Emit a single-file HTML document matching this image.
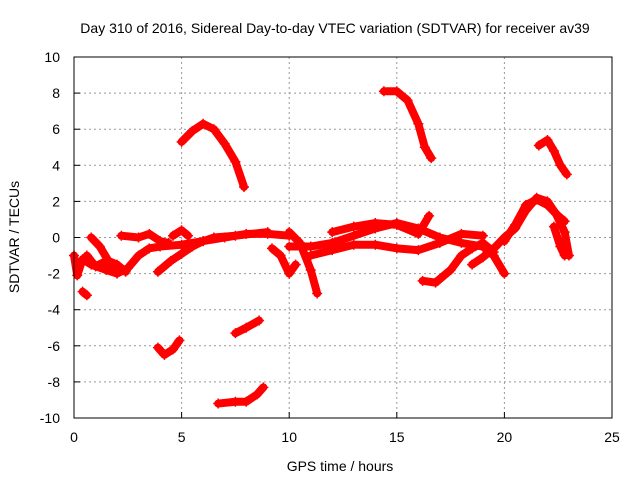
<!DOCTYPE html>
<html><head><meta charset="utf-8"><style>
body{margin:0;background:#fff}
svg text{font-family:"Liberation Sans",sans-serif;font-size:14px;fill:#000}
</style></head><body>
<svg width="640" height="480">
<g id="grid"></g>
<g id="ticks"></g>
<g id="series"></g>
<rect x="74" y="57" width="538" height="361" fill="none" stroke="#000" stroke-width="1"/>
<text x="335" y="33" text-anchor="middle">Day 310 of 2016, Sidereal Day-to-day VTEC variation (SDTVAR) for receiver av39</text>
<text x="340" y="471" text-anchor="middle">GPS time / hours</text>
<text transform="translate(19,237) rotate(-90)" text-anchor="middle">SDTVAR / TECUs</text>
</svg>
<script>
const xTicks=[0,5,10,15,20,25];
const yTicks=[-10,-8,-6,-4,-2,0,2,4,6,8,10];
const tracks=[
[[5.0,5.3],[5.5,5.9],[6.0,6.3],[6.5,6.0],[7.0,5.2],[7.5,4.2],[7.9,2.8]],
[[14.4,8.1],[15.0,8.1],[15.5,7.6],[16.0,6.3],[16.3,5.0],[16.6,4.4]],
[[21.6,5.1],[22.0,5.4],[22.3,4.8],[22.6,4.0],[22.9,3.5]],
[[3.9,-6.1],[4.2,-6.5],[4.6,-6.2],[4.9,-5.7]],
[[7.5,-5.3],[8.0,-5.0],[8.6,-4.6]],
[[6.7,-9.2],[7.5,-9.1],[8.0,-9.1],[8.5,-8.7],[8.8,-8.3]],
[[0.4,-3.0],[0.6,-3.2]],
[[0,-1],[0.15,-2.1],[0.4,-1.2],[0.8,-1.5],[1.5,-1.8],[2.0,-2.0],[2.5,-1.7],[3.0,-1.0],[3.5,-0.6],[4.0,-0.5],[5,-0.4],[6,-0.2],[7,0],[8,0.2],[9,0.2],[10,0.1]],
[[0.8,0],[1.2,-0.5],[1.6,-1.3],[2.0,-1.5],[2.4,-1.9]],
[[0.6,-1.0],[1.0,-1.6],[1.5,-1.3],[2.0,-1.8]],
[[2.2,0.1],[3,0],[3.5,0.2],[4.0,-0.2],[4.4,-0.3]],
[[3.9,-1.9],[4.5,-1.3],[5,-0.9],[5.5,-0.5],[6,-0.2],[6.5,0],[7.5,0.1],[9,0.3]],
[[4.6,0.1],[5.0,0.4],[5.3,0.1]],
[[9.2,-0.6],[9.6,-1.0],[10,-2.0],[10.3,-1.5]],
[[10.0,0.3],[10.5,-0.3],[11,-1.8],[11.3,-3.1]],
[[10,-0.5],[11,-0.5],[12,-0.3],[13,0.1],[14,0.5],[15,0.8],[16,0.5],[17,0],[18,-0.3],[19,-0.5],[19.5,-1],[20,-2]],
[[11,-1],[12,-0.7],[13,-0.4],[14,-0.4],[15,-0.6],[16,-0.7],[17,-0.3],[18,0.2],[19,0.1]],
[[12,0.3],[13,0.6],[14,0.8],[15,0.7],[16,0.2],[16.5,1.2]],
[[16.2,-2.4],[16.8,-2.5],[17.5,-1.8],[18,-1.0],[18.5,-0.6],[19,-0.3],[19.5,-0.8]],
[[18.5,-1.5],[19,-1.1],[19.6,-0.5],[20,0],[20.5,0.5],[21,1.5],[21.5,2.2],[22,2.0],[22.4,1.3],[22.8,0.3],[23,-1]],
[[20,-0.2],[20.5,0.7],[21,1.8],[21.5,2.1],[22,1.8],[22.5,1.2],[22.8,0.9]],
[[22.3,0.6],[22.6,-0.5],[22.8,-1.0]]
];
const NS="http://www.w3.org/2000/svg";
const X=v=>74+v*538/25, Y=v=>237.5-v*361/20;
const grid=document.getElementById('grid'),ticks=document.getElementById('ticks'),ser=document.getElementById('series');
function mk(tag,attrs,parent){const e=document.createElementNS(NS,tag);for(const k in attrs)e.setAttribute(k,attrs[k]);parent.appendChild(e);return e;}
xTicks.forEach(t=>{
 if(t>0&&t<25){const l=mk('line',{x1:X(t),x2:X(t),y1:57,y2:418,stroke:'#999','stroke-dasharray':'2,3'},grid);
 
 }
 const tk=mk('line',{x1:X(t),x2:X(t),y1:418,y2:412,stroke:'#000'},ticks);
 
 
 const tx=mk('text',{x:X(t),y:442,'text-anchor':'middle'},ticks);tx.textContent=t;
 
 
});
yTicks.forEach(t=>{
 if(t>-10&&t<10){const l=mk('line',{x1:74,x2:612,y1:Y(t),y2:Y(t),stroke:'#999','stroke-dasharray':'2,3'},grid);
 
 }
 const tk=mk('line',{x1:74,x2:80,y1:Y(t),y2:Y(t),stroke:'#000'},ticks);
 
 
 const tx=mk('text',{x:60,y:Y(t)+5,'text-anchor':'end'},ticks);tx.textContent=t;
 
 
});
tracks.forEach(tr=>{
 const p=mk('polyline',{points:tr.map(d=>X(d[0])+','+Y(d[1])).join(' '),fill:'none',stroke:'#f00','stroke-width':8,'stroke-linejoin':'round','stroke-linecap':'round'},ser);
 
 
 tr.forEach(d=>{
  const m=mk('path',{d:`M${X(d[0])-5},${Y(d[1])}h10M${X(d[0])},${Y(d[1])-5}v10`,stroke:'#f00','stroke-width':1.5},ser);
  
  
 });
});
</script>
</body></html>
